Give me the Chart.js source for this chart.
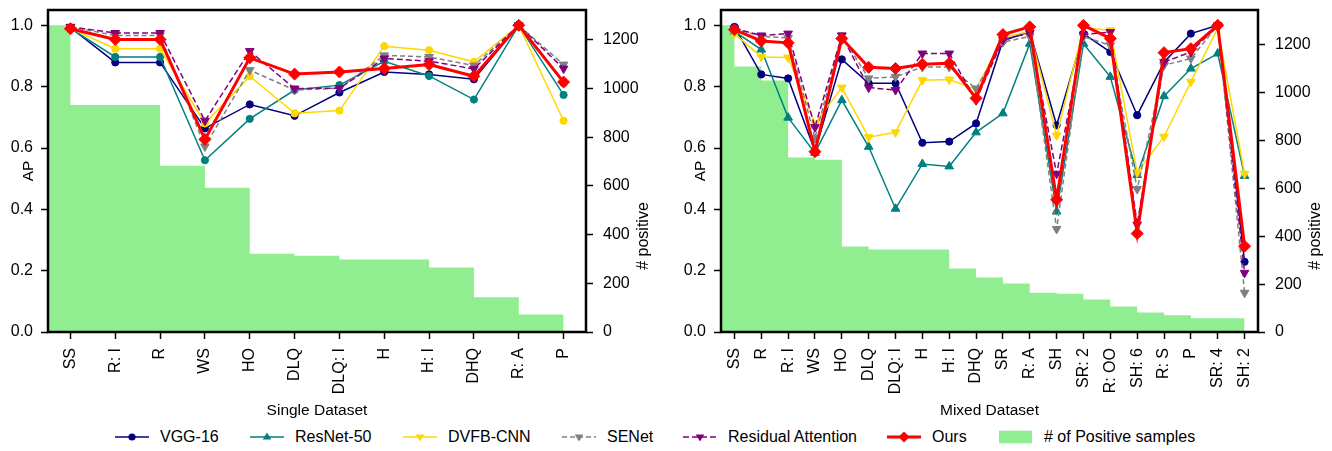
<!DOCTYPE html>
<html>
<head>
<meta charset="utf-8">
<script src="https://cdn.jsdelivr.net/npm/chart.js@4.4.1/dist/chart.umd.min.js"></script>
<style>
body{margin:0;background:#fff;width:1332px;height:451px;overflow:hidden;position:relative;font-family:"Liberation Sans",Arial,sans-serif;}
#c1{position:absolute;left:0;top:0;}
#c2{position:absolute;left:660px;top:0;}
.lg{position:absolute;top:429px;height:16px;display:flex;align-items:center;font-size:16px;color:#000;white-space:nowrap;}
.lg svg{margin-right:11px;flex:none;}
</style>
</head>
<body>
<canvas id="c1" width="660" height="420"></canvas>
<canvas id="c2" width="672" height="420"></canvas>
<div id="legend"></div>
<script>
// ---- data ----
const apTicks = [0, 0.2, 0.4, 0.6, 0.8, 1.0];
const countTicks = [0, 200, 400, 600, 800, 1000, 1200];

const singleCats = ['SS','R: I','R','WS','HO','DLQ','DLQ: I','H','H: I','DHQ','R: A','P'];
const singlePos = [1260, 933, 933, 683, 593, 322, 313, 298, 298, 265, 143, 72];
const singleVGG = [0.993, 0.879, 0.879, 0.664, 0.742, 0.705, 0.781, 0.848, 0.840, 0.824, 1.0, 0.813];
const singleResNet = [0.990, 0.897, 0.897, 0.560, 0.695, 0.789, 0.805, 0.883, 0.835, 0.758, 1.0, 0.773];
const singleDVFB = [0.990, 0.924, 0.924, 0.680, 0.834, 0.713, 0.722, 0.932, 0.919, 0.881, 1.0, 0.689];
const singleSENet = [0.995, 0.967, 0.967, 0.605, 0.854, 0.789, 0.795, 0.902, 0.897, 0.869, 1.0, 0.872];
const singleResAtt = [0.995, 0.975, 0.975, 0.689, 0.916, 0.794, 0.795, 0.892, 0.883, 0.858, 1.0, 0.859];
const singleOurs = [0.989, 0.954, 0.954, 0.628, 0.894, 0.841, 0.848, 0.859, 0.872, 0.834, 1.0, 0.815];

const mixedCats = ['SS','R','R: I','WS','HO','DLQ','DLQ: I','H','H: I','DHQ','SR','R: A','SH','SR: 2','R: OO','SH: 6','R: S','P','SR: 4','SH: 2'];
const mixedPos = [1282, 1110, 1051, 730, 720, 357, 345, 345, 345, 265, 228, 203, 164, 160, 136, 107, 82, 70, 57, 57];
const mixedVGG = [0.995, 0.840, 0.827, 0.590, 0.889, 0.811, 0.811, 0.617, 0.621, 0.680, 0.950, 0.980, 0.674, 0.973, 0.913, 0.707, 0.880, 0.973, 1.0, 0.229];
const mixedResNet = [0.980, 0.921, 0.699, 0.584, 0.756, 0.604, 0.402, 0.548, 0.540, 0.651, 0.713, 0.940, 0.393, 0.940, 0.832, 0.512, 0.769, 0.859, 0.908, 0.509];
const mixedDVFB = [0.973, 0.897, 0.895, 0.680, 0.797, 0.635, 0.651, 0.821, 0.823, 0.791, 0.960, 0.980, 0.641, 0.992, 0.984, 0.520, 0.637, 0.816, 0.990, 0.516];
const mixedSENet = [0.990, 0.964, 0.959, 0.633, 0.967, 0.827, 0.832, 0.864, 0.864, 0.794, 0.945, 0.964, 0.336, 0.963, 0.935, 0.466, 0.870, 0.892, 1.0, 0.128];
const mixedResAtt = [0.990, 0.967, 0.973, 0.668, 0.967, 0.797, 0.789, 0.908, 0.908, 0.756, 0.953, 0.975, 0.516, 0.970, 0.978, 0.350, 0.880, 0.913, 1.0, 0.193];
const mixedOurs = [0.986, 0.949, 0.943, 0.588, 0.957, 0.863, 0.859, 0.873, 0.876, 0.762, 0.970, 0.995, 0.431, 1.0, 0.957, 0.321, 0.911, 0.924, 1.0, 0.280];

// ---- styles ----
const FONT = "'Liberation Sans', Arial, sans-serif";
Chart.defaults.font.family = FONT;
Chart.defaults.color = '#000';

const styles = {
  'VGG-16':             {color:'#000080', width:1.5, dash:[],    mark:'circle'},
  'ResNet-50':          {color:'#008080', width:1.5, dash:[],    mark:'up'},
  'DVFB-CNN':           {color:'#FFD700', width:1.5, dash:[],    mark:'down'},
  'SENet':              {color:'#808080', width:1.5, dash:[5,3], mark:'down'},
  'Residual Attention': {color:'#800080', width:1.5, dash:[6,3], mark:'down'},
  'Ours':               {color:'#FF0000', width:3,   dash:[],    mark:'diamond'}
};
const GREEN = '#90EE90';

function markerOpts(mark){
  if(mark === 'circle') return {pointStyle:'circle', pointRotation:0, pointRadius:3.6};
  if(mark === 'up') return {pointStyle:'triangle', pointRotation:0, pointRadius:5};
  if(mark === 'down') return {pointStyle:'triangle', pointRotation:180, pointRadius:5};
  return {pointStyle:'rectRot', pointRotation:0, pointRadius:6};
}

function lineSet(name, values, mark, order){
  const s = styles[name];
  return Object.assign({
    type:'line', label:name, yAxisID:'y', order:order,
    data: values.map((v,i) => ({x:i, y:v})),
    borderColor:s.color, backgroundColor:s.color,
    pointBorderColor:s.color, pointBackgroundColor:s.color, pointBorderWidth:1,
    borderWidth:s.width, borderDash:s.dash, tension:0, fill:false
  }, markerOpts(mark || s.mark));
}

function stepSet(counts){
  const pts = [];
  counts.forEach((c,i) => { pts.push({x:i-1, y:c}); pts.push({x:i, y:c}); });
  return {
    type:'line', label:'# of Positive samples', yAxisID:'y1', order:10,
    data:pts, borderWidth:0, borderColor:GREEN, backgroundColor:GREEN,
    pointRadius:0, fill:'origin', tension:0
  };
}

const frame = {
  id:'frame',
  afterDatasetsDraw(chart){
    const a = chart.chartArea, ctx = chart.ctx;
    ctx.save();
    ctx.strokeStyle = '#000';
    ctx.lineWidth = 2.5;
    ctx.strokeRect(a.left, a.top, a.right - a.left, a.bottom - a.top);
    ctx.restore();
  }
};

const rightTitle = {
  id:'rightTitle',
  afterDraw(chart, args, opts){
    const ctx = chart.ctx, a = chart.chartArea;
    ctx.save();
    ctx.translate(a.right + opts.dx, opts.y);
    ctx.rotate(-Math.PI/2);
    ctx.font = '16px ' + FONT;
    ctx.fillStyle = '#000';
    ctx.textAlign = 'center';
    ctx.textBaseline = 'middle';
    ctx.fillText(opts.text, 0, 0);
    ctx.restore();
  }
};

const tickGrid = {drawOnChartArea:false, drawTicks:true, tickLength:7, tickWidth:1.5, tickColor:'#000'};

function makeChart(id, cats, pos, series, marks, title, leftW, apPad, rightW){
  const datasets = [];
  const names = Object.keys(styles);
  names.forEach((n,k) => datasets.push(lineSet(n, series[k], marks[k], 6 - k)));
  datasets.push(stepSet(pos));

  return new Chart(document.getElementById(id), {
    type:'line',
    data:{datasets:datasets},
    plugins:[frame, rightTitle],
    options:{
      responsive:false, animation:false,
      layout:{padding:0},
      plugins:{
        legend:{display:false}, tooltip:{enabled:false},
        rightTitle:{text:'# positive', dx:58, y:236}
      },
      scales:{
        x:{
          type:'linear', min:-0.5, max:cats.length - 0.5,
          afterBuildTicks: s => { s.ticks = cats.map((c,i) => ({value:i})); },
          ticks:{callback: v => cats[v], minRotation:90, maxRotation:90, autoSkip:false, padding:9, font:{size:16}, color:'#000'},
          grid:tickGrid, border:{display:false},
          title:{display:true, text:title, font:{size:15.5}, color:'#000', padding:{top:0, bottom:0}},
          afterFit: s => { s.height = 88; s.paddingLeft = 0; s.paddingRight = 0; }
        },
        y:{
          type:'linear', position:'left', min:0, max:1.05,
          afterBuildTicks: s => { s.ticks = apTicks.map(v => ({value:v})); },
          ticks:{callback: v => v.toFixed(1), padding:8, font:{size:16}, color:'#000'},
          grid:tickGrid, border:{display:false},
          title:{display:true, text:'AP', font:{size:15.5}, color:'#000', padding:{top:apPad, bottom:0}},
          afterFit: s => { s.width = leftW; s.paddingTop = 10; s.paddingBottom = 0; }
        },
        y1:{
          type:'linear', position:'right', min:0, max:1.05 * Math.max(...pos),
          afterBuildTicks: s => { s.ticks = countTicks.map(v => ({value:v})); },
          ticks:{callback: v => String(v), padding:10, font:{size:16}, color:'#000'},
          grid:tickGrid, border:{display:false},
          afterFit: s => { s.width = rightW; s.paddingTop = 10; s.paddingBottom = 0; }
        }
      }
    }
  });
}

makeChart('c1', singleCats, singlePos,
  [singleVGG, singleResNet, singleDVFB, singleSENet, singleResAtt, singleOurs],
  ['circle','circle','circle','down','down','diamond'],
  'Single Dataset', 48, 19, 74);

makeChart('c2', mixedCats, mixedPos,
  [mixedVGG, mixedResNet, mixedDVFB, mixedSENet, mixedResAtt, mixedOurs],
  [null, null, null, null, null, null],
  'Mixed Dataset', 61, 31, 74);

// ---- legend ----
function handleSvg(s){
  let m = '';
  if(s.mark === 'circle') m = `<circle cx="17" cy="7" r="3.6" fill="${s.color}"/>`;
  else if(s.mark === 'up') m = `<polygon points="17,2.5 21.3,9.5 12.7,9.5" fill="${s.color}"/>`;
  else if(s.mark === 'down') m = `<polygon points="17,11.5 21.3,4.5 12.7,4.5" fill="${s.color}"/>`;
  else m = `<polygon points="17,1.5 22.5,7 17,12.5 11.5,7" fill="${s.color}"/>`;
  return `<svg width="34" height="14"><line x1="0" y1="7" x2="34" y2="7" stroke="${s.color}" stroke-width="${s.width}" stroke-dasharray="${s.dash.join(',')}"/>${m}</svg>`;
}
const legendX = [115, 250, 403, 562, 683, 887, 999];
let html = '';
Object.keys(styles).forEach((n,k) => {
  html += `<div class="lg" style="left:${legendX[k]}px">${handleSvg(styles[n])}<span>${n}</span></div>`;
});
html += `<div class="lg" style="left:${legendX[6]}px"><svg width="34" height="14"><rect x="0" y="0.7" width="33" height="12.6" fill="${GREEN}"/></svg><span># of Positive samples</span></div>`;
document.getElementById('legend').innerHTML = html;
</script>
</body>
</html>
